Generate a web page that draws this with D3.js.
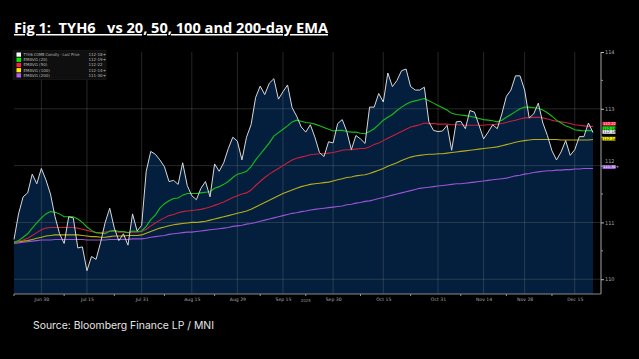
<!DOCTYPE html>
<html><head><meta charset="utf-8">
<script src="https://cdn.jsdelivr.net/npm/d3@7"></script>
<style>
html,body{margin:0;padding:0;background:#000;}
svg{display:block;}
</style></head>
<body>
<script>
// ---------- DATA ----------
const startDate = "2025-06-20", endDate = "2025-12-19";
const holidays = ["2025-07-04", "2025-09-01", "2025-11-27"];

const price = [
110.70,111.15,111.45,111.52,111.85,111.68,111.95,111.75,111.50,111.10,
110.80,110.63,111.10,111.08,110.55,110.57,110.15,110.40,110.35,110.65,
111.00,111.25,110.90,110.68,110.80,110.60,111.15,110.85,110.95,111.90,
112.25,112.20,112.10,111.98,111.72,111.74,111.67,112.05,111.65,111.47,
111.40,111.60,111.72,111.45,112.03,111.90,112.05,112.30,112.50,112.43,
112.10,112.50,112.72,113.20,113.40,113.25,113.45,113.53,113.17,113.30,
113.42,113.02,112.87,112.68,112.59,112.72,112.50,112.23,112.16,112.42,
112.40,112.74,112.81,112.60,112.28,112.53,112.47,112.39,113.03,113.03,
113.27,113.12,113.63,113.39,113.50,113.67,113.70,113.39,113.33,113.33,
113.38,112.77,112.62,112.60,112.61,112.71,112.27,112.77,112.78,112.65,
112.97,112.94,112.71,112.47,112.59,112.72,112.65,112.91,113.22,113.33,
113.58,113.58,113.33,112.84,112.91,113.10,112.75,112.53,112.26,112.10,
112.24,112.44,112.18,112.28,112.51,112.51,112.75,112.58];

const ema20 = [
110.65,110.68,110.74,110.80,110.90,110.99,111.08,111.15,111.19,111.18,
111.15,111.10,111.10,111.10,111.06,111.00,110.92,110.86,110.82,110.81,
110.80,110.85,110.86,110.84,110.84,110.82,110.85,110.84,110.85,110.93,
111.05,111.13,111.25,111.33,111.38,111.42,111.43,111.48,111.51,111.51,
111.51,111.52,111.53,111.54,111.60,111.63,111.67,111.72,111.79,111.85,
111.87,111.90,111.98,112.10,112.20,112.30,112.40,112.52,112.58,112.64,
112.70,112.77,112.80,112.78,112.76,112.75,112.73,112.70,112.67,112.64,
112.61,112.62,112.62,112.60,112.59,112.59,112.57,112.56,112.60,112.65,
112.72,112.80,112.85,112.90,112.97,113.03,113.08,113.12,113.14,113.16,
113.18,113.14,113.10,113.06,113.02,112.98,112.92,112.90,112.89,112.88,
112.87,112.85,112.83,112.81,112.80,112.79,112.77,112.80,112.85,112.90,
112.95,113.00,113.03,113.03,113.02,113.01,112.98,112.93,112.87,112.80,
112.75,112.70,112.67,112.63,112.62,112.61,112.62,112.61];

const ema50 = [
110.65,110.67,110.69,110.72,110.77,110.82,110.87,110.90,110.91,110.91,
110.91,110.91,110.91,110.91,110.90,110.88,110.86,110.84,110.82,110.82,
110.83,110.84,110.84,110.83,110.83,110.82,110.83,110.83,110.84,110.88,
110.94,110.99,111.04,111.08,111.12,111.14,111.17,111.19,111.20,111.21,
111.22,111.23,111.25,111.27,111.30,111.33,111.36,111.40,111.44,111.47,
111.50,111.52,111.57,111.65,111.72,111.79,111.85,111.90,111.95,112.00,
112.05,112.10,112.13,112.15,112.17,112.19,112.20,112.21,112.21,112.22,
112.23,112.25,112.27,112.28,112.28,112.29,112.30,112.30,112.33,112.37,
112.40,112.44,112.48,112.52,112.56,112.60,112.64,112.68,112.70,112.72,
112.75,112.74,112.74,112.73,112.73,112.73,112.72,112.72,112.72,112.71,
112.71,112.71,112.71,112.71,112.72,112.72,112.73,112.74,112.76,112.78,
112.80,112.82,112.84,112.84,112.85,112.85,112.84,112.82,112.80,112.78,
112.77,112.76,112.74,112.72,112.71,112.70,112.69,112.69];

const ema100 = [
110.65,110.66,110.67,110.68,110.70,110.72,110.74,110.76,110.77,110.78,
110.78,110.78,110.78,110.78,110.78,110.77,110.76,110.75,110.75,110.74,
110.74,110.75,110.76,110.76,110.76,110.77,110.77,110.77,110.78,110.81,
110.84,110.87,110.90,110.92,110.94,110.96,110.97,110.98,110.99,111.00,
111.00,111.01,111.02,111.04,111.06,111.08,111.10,111.12,111.14,111.16,
111.18,111.20,111.23,111.27,111.31,111.35,111.39,111.43,111.47,111.51,
111.54,111.57,111.60,111.63,111.65,111.67,111.68,111.69,111.70,111.71,
111.73,111.75,111.77,111.79,111.80,111.82,111.83,111.84,111.86,111.89,
111.92,111.95,111.99,112.02,112.05,112.09,112.12,112.15,112.17,112.18,
112.19,112.20,112.20,112.21,112.21,112.22,112.23,112.24,112.25,112.26,
112.27,112.28,112.29,112.30,112.31,112.32,112.33,112.35,112.37,112.39,
112.41,112.43,112.44,112.45,112.46,112.46,112.46,112.46,112.46,112.46,
112.45,112.45,112.45,112.45,112.45,112.45,112.45,112.46];

const ema200 = [
110.63,110.64,110.65,110.66,110.67,110.68,110.69,110.69,110.69,110.70,
110.70,110.70,110.70,110.70,110.70,110.70,110.69,110.69,110.69,110.69,
110.69,110.70,110.70,110.70,110.70,110.70,110.71,110.71,110.71,110.72,
110.74,110.75,110.76,110.77,110.79,110.80,110.81,110.82,110.83,110.83,
110.84,110.85,110.86,110.87,110.88,110.89,110.90,110.91,110.93,110.94,
110.95,110.97,110.98,111.00,111.02,111.04,111.06,111.08,111.10,111.12,
111.14,111.16,111.17,111.19,111.20,111.22,111.23,111.24,111.25,111.26,
111.27,111.28,111.29,111.31,111.32,111.34,111.35,111.37,111.38,111.40,
111.42,111.44,111.46,111.48,111.50,111.52,111.54,111.56,111.58,111.60,
111.61,111.62,111.63,111.64,111.65,111.66,111.67,111.68,111.68,111.69,
111.70,111.71,111.72,111.73,111.74,111.75,111.76,111.77,111.78,111.80,
111.82,111.83,111.85,111.86,111.88,111.89,111.90,111.91,111.91,111.92,
111.92,111.93,111.93,111.94,111.94,111.95,111.95,111.95];

const seriesNames = ["TYH6 COMB Comdty - Last Price", "EMAVG (20)", "EMAVG (50)", "EMAVG (100)", "EMAVG (200)"];
const lastLabels = ["112-18+", "112-19+", "112-22", "112-14+", "111-30+"];
const lastValues = [112.578, 112.609, 112.6875, 112.453, 111.953];

const xTickDates = ["2025-06-30","2025-07-15","2025-07-31","2025-08-15","2025-08-29","2025-09-15",
                    "2025-09-30","2025-10-15","2025-10-31","2025-11-14","2025-11-28","2025-12-15"];
const xTickLabels = ["Jun 30","Jul 15","Jul 31","Aug 15","Aug 29","Sep 15",
                     "Sep 30","Oct 15","Oct 31","Nov 14","Nov 28","Dec 15"];
const xMinorDates = ["2025-06-20","2025-07-08","2025-07-23","2025-08-07","2025-08-22","2025-09-08",
                     "2025-09-22","2025-10-08","2025-10-23","2025-11-07","2025-11-21","2025-12-08"];
const yTicks = [110, 111, 112, 113, 114];
const yMinorTicks = [110.5, 111.5, 112.5, 113.5];
const yearLabel = "2025";

// ---------- BUILD ----------
const fmt = d3.utcFormat("%Y-%m-%d");
const dates = d3.utcDays(new Date(startDate + "T00:00:00Z"), d3.utcDay.offset(new Date(endDate + "T00:00:00Z"), 1))
  .filter(d => d.getUTCDay() !== 0 && d.getUTCDay() !== 6 && !holidays.includes(fmt(d)))
  .map(fmt);

const W = 639, H = 359;
const svg = d3.select("body").append("svg").attr("width", W).attr("height", H)
  .style("background", "#000");

const x = d3.scalePoint().domain(dates).range([14, 593]);
const y = d3.scaleLinear().domain([109.74, 114]).range([294, 52]);
const plotL = 14, plotR = 601, plotT = 52, plotB = 294;

// title
svg.append("text").attr("x", 14).attr("y", 33)
  .attr("fill", "#fff").attr("font-family", "Open Sans, Lato, sans-serif")
  .attr("font-weight", 700).attr("font-size", 15)
  .attr("textLength", 314).attr("lengthAdjust", "spacingAndGlyphs")
  .attr("xml:space", "preserve")
  .style("white-space", "pre")
  .style("text-decoration", "underline")
  .text("Fig 1:  TYH6   vs 20, 50, 100 and 200-day EMA");

// area fill
const idx = d3.range(dates.length);
const area = d3.area().x(i => x(dates[i])).y0(plotB).y1(i => y(price[i]));
svg.append("path").datum(idx).attr("d", area).attr("fill", "#031f3d");

// grid
const gridCol = "rgba(150,150,150,0.32)";
svg.append("g").selectAll("line").data(yTicks.filter(v => v < 114)).join("line")
  .attr("x1", plotL).attr("x2", plotR).attr("y1", d => y(d)).attr("y2", d => y(d))
  .attr("stroke", gridCol).attr("stroke-width", 0.8);
svg.append("g").selectAll("line").data(xTickDates).join("line")
  .attr("x1", d => x(d)).attr("x2", d => x(d)).attr("y1", plotT).attr("y2", plotB)
  .attr("stroke", gridCol).attr("stroke-width", 0.8);

// lines
const emaSets = [
  {v: ema200, c: "#9a55d6"},
  {v: ema100, c: "#b8ad1a"},
  {v: ema50,  c: "#c8203e"},
  {v: ema20,  c: "#17c017"},
];
const lineGen = vals => d3.line().x(i => x(dates[i])).y(i => y(vals[i]))(idx);
emaSets.forEach(s => {
  svg.append("path").attr("d", lineGen(s.v)).attr("fill", "none")
    .attr("stroke", s.c).attr("stroke-width", 1.1);
});
svg.append("path").attr("d", lineGen(price)).attr("fill", "none")
  .attr("stroke", "#d8d8d8").attr("stroke-width", 1);

// axes
const axCol = "#8a8a8a";
svg.append("line").attr("x1", plotR).attr("x2", plotR).attr("y1", plotT).attr("y2", plotB)
  .attr("stroke", axCol).attr("stroke-width", 1.2);
svg.append("line").attr("x1", plotL).attr("x2", plotR).attr("y1", plotB).attr("y2", plotB)
  .attr("stroke", axCol).attr("stroke-width", 1.2);

const yAx = svg.append("g").attr("transform", `translate(${plotR},0)`)
  .call(d3.axisRight(y).tickValues(yTicks).tickSize(3).tickFormat(d3.format("d")));
yAx.select(".domain").remove();
yAx.selectAll("line").attr("stroke", "#bbb");
yAx.selectAll("text").attr("fill", "#aaa").attr("font-size", 5).attr("font-family", "DejaVu Sans")
  .attr("x", 4).attr("dy", d => d === 112 ? "-0.55em" : "0.32em");
svg.append("g").selectAll("line").data(yMinorTicks).join("line")
  .attr("x1", plotR).attr("x2", plotR + 2).attr("y1", d => y(d)).attr("y2", d => y(d))
  .attr("stroke", "#999");

const xAx = svg.append("g").attr("transform", `translate(0,${plotB})`)
  .call(d3.axisBottom(x).tickValues(xTickDates).tickSize(0).tickPadding(4)
    .tickFormat((d, i) => xTickLabels[i]));
xAx.select(".domain").remove();
xAx.selectAll("text").attr("fill", "#aaa").attr("font-size", 4.6).attr("font-family", "DejaVu Sans");
svg.append("g").selectAll("line").data(xMinorDates).join("line")
  .attr("x1", d => x(d)).attr("x2", d => x(d)).attr("y1", plotB).attr("y2", plotB + 2)
  .attr("stroke", "#999");
svg.append("text").attr("x", x("2025-09-22")).attr("y", 302).attr("text-anchor", "middle")
  .attr("fill", "#999").attr("font-size", 4).attr("font-family", "DejaVu Sans").text(yearLabel);

// right value tags (stacked so they do not overlap)
const tagCols = ["#f2f2f2", "#22dd22", "#ff2a48", "#f5f000", "#a566e0"];
const tagText = ["#000", "#000", "#fff", "#000", "#fff"];
const tagH = 3.7;
const order = d3.range(5).sort((a, b) => lastValues[b] - lastValues[a]);
let prev = -Infinity;
const tagY = [];
order.forEach(k => {
  let cy = y(lastValues[k]) - 1.2;
  if (cy < prev + tagH) cy = prev + tagH;
  tagY[k] = cy; prev = cy;
});
const shift = 1.6;
[2, 1, 0].forEach(k => tagY[k] -= shift);
order.forEach(k => {
  const cy = tagY[k];
  svg.append("rect").attr("x", plotR + 1.5).attr("y", cy - tagH / 2).attr("width", 13).attr("height", tagH)
    .attr("fill", tagCols[k]);
  svg.append("text").attr("x", plotR + 2.3).attr("y", cy + 1.3)
    .attr("fill", tagText[k]).attr("font-size", 3.6).attr("font-family", "DejaVu Sans")
    .text(lastLabels[k]);
});

// legend
const lg = svg.append("g");
lg.append("rect").attr("x", 13).attr("y", 50.5).attr("width", 93).attr("height", 29)
  .attr("fill", "#0f0f0f").attr("stroke", "#1e1e1e").attr("stroke-width", 0.6);
const legCols = ["#ffffff", "#00f000", "#ff2038", "#ffee00", "#b060f0"];
seriesNames.forEach((n, i) => {
  const yy = 52.5 + i * 5.2;
  lg.append("rect").attr("x", 16.5).attr("y", yy).attr("width", 4.5).attr("height", 4.2).attr("fill", legCols[i]);
  const t = lg.append("text").attr("x", 23.5).attr("y", yy + 3.5).attr("fill", "#bbb")
    .attr("font-size", 4).attr("font-family", "DejaVu Sans").text(n);
  if (i === 0) t.attr("textLength", 56).attr("lengthAdjust", "spacingAndGlyphs");
  lg.append("text").attr("x", 88.5).attr("y", yy + 3.5).attr("fill", "#bbb")
    .attr("font-size", 4).attr("font-family", "DejaVu Sans").text(lastLabels[i]);
});

// source
svg.append("text").attr("x", 33).attr("y", 328.5).attr("fill", "#e6e6e6")
  .attr("font-family", "Inter, Open Sans, sans-serif").attr("font-size", 10.5)
  .attr("textLength", 181).attr("lengthAdjust", "spacingAndGlyphs")
  .text("Source: Bloomberg Finance LP / MNI");
</script>
</body></html>
